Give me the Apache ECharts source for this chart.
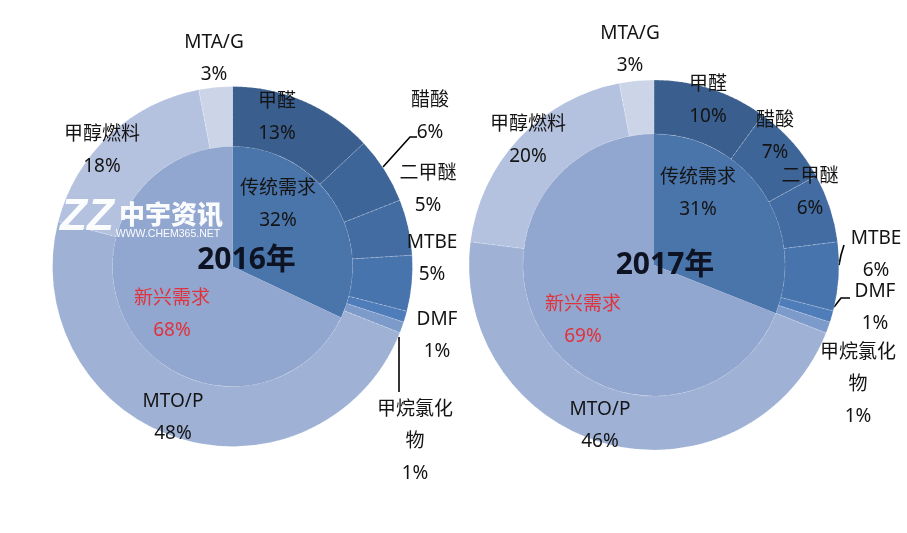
<!DOCTYPE html>
<html><head><meta charset="utf-8">
<script src="https://cdn.jsdelivr.net/npm/echarts@6/dist/echarts.min.js"></script>
<style>html,body{margin:0;padding:0;background:#fff}#c{width:907px;height:533px}</style>
</head><body><div id="c"></div>
<script>
// ---- data ----
const outerNames = ['甲醛','醋酸','二甲醚','MTBE','DMF','甲烷氯化物','MTO/P','甲醇燃料','MTA/G'];
const outerLabelText = ['甲醛','醋酸','二甲醚','MTBE','DMF','甲烷氯化\n物','MTO/P','甲醇燃料','MTA/G'];
const innerNames = ['传统需求','新兴需求'];
const outer2016 = [13, 6, 5, 5, 1, 1, 48, 18, 3];
const inner2016 = [32, 68];
const outer2017 = [10, 7, 6, 6, 1, 1, 46, 20, 3];
const inner2017 = [31, 69];
const yearLabels = ['2016年', '2017年'];

// ---- styles / layout ----
const outerColors = ['#3a5e8d','#3e6598','#436ca3','#4874ad','#4e7db9','#7d9bca','#9fb2d6','#b4c2df','#ccd5e7'];
const innerColors = ['#4a75ab','#92a7cf'];
const centers = [[232.5, 266.5], [654, 265]];
const radii = [[[120, 180], [0, 120]], [[131, 185], [0, 131]]];
const outerLabelPos = [
  [[277,118],[430,117],[428,190],[432,259],[437,336],[415,442],[173,418],[102,151],[214,59]],
  [[708,101],[775,137],[810,193],[876,255],[875,308],[858,385],[600,426],[528,141],[630,50]]
];
const innerLabelPos = [[[278,205],[172,315]], [[698,194],[583,321]]];
const leaderLines = [
  {1: [[383,167],[410,137],[417,137]], 5: [[399,337],[399,365],[399,392]]},
  {3: [[839,265],[841,255],[844,245]], 4: [[834,307],[841,298],[850,298]]}
];
const yearPos = [[246.5, 260], [665, 265]];
const FONT = '"Noto Sans","Noto Sans CJK SC",sans-serif';

function outerSeries(k, vals) {
  return {
    type: 'pie', center: centers[k], radius: radii[k][0],
    startAngle: 90, clockwise: true, avoidLabelOverlap: false, silent: true,
    itemStyle: {borderColor: 'rgba(255,255,255,0.3)', borderWidth: 0.8, borderType: 'dashed'},
    label: {show: true, position: 'inside', color: '#141414', fontSize: 19, lineHeight: 32, fontFamily: FONT,
      formatter: p => outerLabelText[p.dataIndex] + '\n' + p.value + '%'},
    labelLine: {show: false, lineStyle: {color: '#000', width: 1.6}},
    labelLayout: function (p) {
      const pos = outerLabelPos[k][p.dataIndex];
      const res = {x: pos[0], y: pos[1], align: 'center', verticalAlign: 'middle'};
      if (leaderLines[k][p.dataIndex]) res.labelLinePoints = leaderLines[k][p.dataIndex];
      return res;
    },
    data: vals.map((v, i) => {
      const hasLine = leaderLines[k][i] !== undefined;
      return {
        name: outerNames[i], value: v,
        itemStyle: {color: outerColors[i]},
        label: {position: hasLine ? 'outside' : 'inside'},
        labelLine: {show: hasLine, lineStyle: {color: '#000', width: 1.6}}
      };
    })
  };
}
function innerSeries(k, vals) {
  return {
    type: 'pie', center: centers[k], radius: radii[k][1],
    startAngle: 90, clockwise: true, silent: true,
    itemStyle: {borderWidth: 0},
    label: {show: true, position: 'inside', fontSize: 19, lineHeight: 32, fontFamily: FONT,
      formatter: p => innerNames[p.dataIndex] + '\n' + p.value + '%'},
    labelLine: {show: false},
    labelLayout: function (p) {
      const pos = innerLabelPos[k][p.dataIndex];
      return {x: pos[0], y: pos[1], align: 'center', verticalAlign: 'middle'};
    },
    data: vals.map((v, i) => ({
      name: innerNames[i], value: v,
      itemStyle: {color: innerColors[i]},
      label: {color: i === 0 ? '#141414' : '#e0323c'}
    }))
  };
}

const chart = echarts.init(document.getElementById('c'), null, {renderer: 'canvas'});
const option = {
  backgroundColor: '#fff',
  animation: false,
  series: [
    outerSeries(0, outer2016), innerSeries(0, inner2016),
    outerSeries(1, outer2017), innerSeries(1, inner2017)
  ],
  graphic: [
    ...yearLabels.map((t, k) => ({
      type: 'text', x: yearPos[k][0], y: yearPos[k][1], z: 100,
      style: {text: t, fontSize: 30, fontWeight: 'bold', fontFamily: FONT, fill: '#0d1322', align: 'center', verticalAlign: 'middle'}
    })),
    {type: 'text', x: 87, y: 218, z: 100,
      style: {text: 'ZZ', fontSize: 44, fontWeight: 900, fontStyle: 'italic', fontFamily: '"Liberation Sans",sans-serif', fill: 'rgba(255,255,255,0.95)', align: 'center', verticalAlign: 'middle'}},
    {type: 'text', x: 171, y: 214, z: 100,
      style: {text: '中宇资讯', fontSize: 26, fontWeight: 900, fontFamily: '"Noto Sans CJK SC",sans-serif', fill: 'rgba(255,255,255,0.95)', align: 'center', verticalAlign: 'middle'}},
    {type: 'text', x: 168, y: 234, z: 100,
      style: {text: 'WWW.CHEM365.NET', fontSize: 10.5, fontFamily: '"Liberation Sans",sans-serif', fill: 'rgba(255,255,255,0.95)', align: 'center', verticalAlign: 'middle'}}
  ]
};
chart.setOption(option);
</script>
</body></html>
